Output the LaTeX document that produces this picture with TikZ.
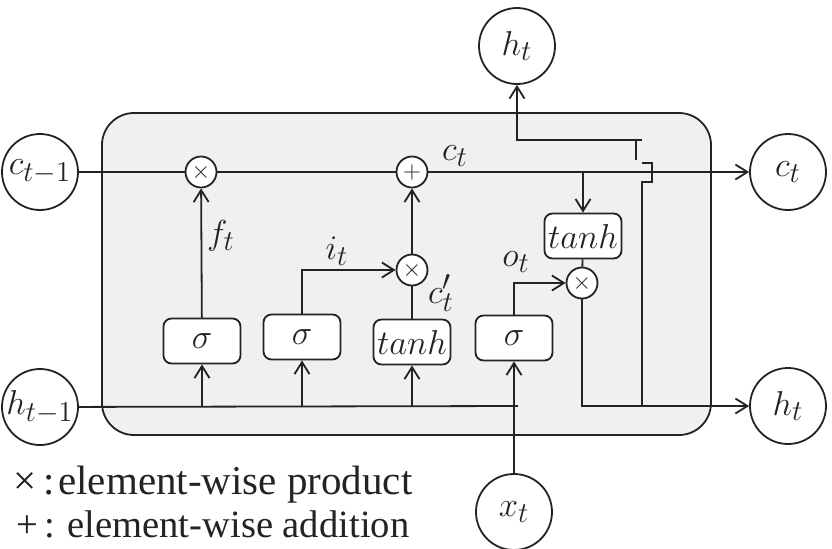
\documentclass[tikz,border=0pt]{standalone}
\usepackage{fontspec}
\newfontfamily\legendfont{Liberation Serif}
\usetikzlibrary{arrows.meta}
\definecolor{boxgray}{RGB}{240,240,240}
\definecolor{ink}{RGB}{35,35,35}
\begin{document}
\begin{tikzpicture}[x=0.5pt,y=-0.5pt,line width=0.9pt,color=ink,
  >={Straight Barb[length=6pt,width=7.5pt,line width=0.9pt]},
  stateC/.style={circle,draw=ink,fill=white,minimum size=38pt,inner sep=0pt,font=\fontsize{19}{22}\selectfont},
  opC/.style={circle,draw=ink,fill=white,minimum size=15.5pt,inner sep=0pt,font=\fontsize{13}{14}\selectfont},
  gatebox/.style={draw=ink,fill=white,rounded corners=4pt,minimum width=38.5pt,minimum height=22.5pt,inner sep=0pt,font=\fontsize{18}{20}\selectfont},
  lbl/.style={inner sep=0pt,font=\fontsize{19}{22}\selectfont},
  legend/.style={anchor=base west,inner sep=0pt,font=\legendfont\fontsize{20.5}{24}\selectfont}]
\useasboundingbox (0,0) rectangle (832,548);
% cell body
\draw[draw=ink,fill=boxgray,rounded corners=16pt] (102,113) rectangle (711,435);

% state nodes
\node[stateC] (ctm1) at (40,172) {$c_{t-1}$};
\node[stateC] (htm1) at (40,407) {$h_{t-1}$};
\node[stateC] (ct) at (788,172) {$c_t$};
\node[stateC] (ht) at (788,406) {$h_t$};
\node[stateC] (htop) at (517,46) {$h_t$};
\node[stateC] (xt) at (514,512) {$x_t$};

% operators
\node[opC] (fx) at (201,172) {$\times$};
\node[opC] (plus) at (412,172) {$+$};
\node[opC] (ix) at (412,270) {$\times$};
\node[opC] (ox) at (582,283) {$\times$};

% gates
\node[gatebox] (sf) at (202,341) {$\sigma$};
\node[gatebox] (si) at (302,337) {$\sigma$};
\node[gatebox] (tc) at (412,342) {$tanh$};
\node[gatebox] (so) at (514,338) {$\sigma$};
\node[gatebox] (tho) at (583,236) {$tanh$};

% helper coordinates
\coordinate (cdn) at (583,172);
\coordinate (hend) at (518,406);
\coordinate (hb) at (642,406);
\coordinate (hturn) at (642,140);

% cell state line
\draw (ctm1) -- (fx);
\draw (fx) -- (plus);
\draw[->] (plus) -- (ct);
\draw[->] (cdn) -- (tho.north);

% hidden input line
\draw (htm1) -- (hend);
\draw[->] (sf.south |- hend) -- (sf.south);
\draw[->] (si.south |- hend) -- (si.south);
\draw[->] (tc.south |- hend) -- (tc.south);
\draw[->] (xt) -- (so.south);

% gates to operators
\draw[->] (sf) -- (fx);
\draw[->] (si.north) |- (ix);
\draw (tc) -- (ix);
\draw[->] (ix) -- (plus);
\draw[->] (so.north) |- (ox);
\draw (tho) -- (ox);
\draw[->] (ox.south) |- (ht);

% output to top h_t with hop over cell line
\draw (hb) -- (642,182) -- (652,182) -- (652,163) -- (642,163);
\draw (636,160) -- (636,140);
\draw[->] (hturn) -- (517,140) -- (htop.south);

% labels
\node[lbl] (lct) at (455,156) {$c_t$};
\node[lbl] (lft) at (221,236) {$f_t$};
\node[lbl] (lit) at (337,251) {$i_t$};
\node[lbl] (lcp) at (441,293) {$c_t'$};
\node[lbl] (lot) at (516,262) {$o_t$};

% legend
\node[legend] (lg1) at (13,494) {×\hspace{3pt}:\hspace{2pt}element-wise product};
\node[legend,font=\legendfont\fontsize{19.3}{24}\selectfont] (lg2) at (16,537) {+\hspace{3pt}:\hspace{6pt}element-wise addition};
\end{tikzpicture}
\end{document}
